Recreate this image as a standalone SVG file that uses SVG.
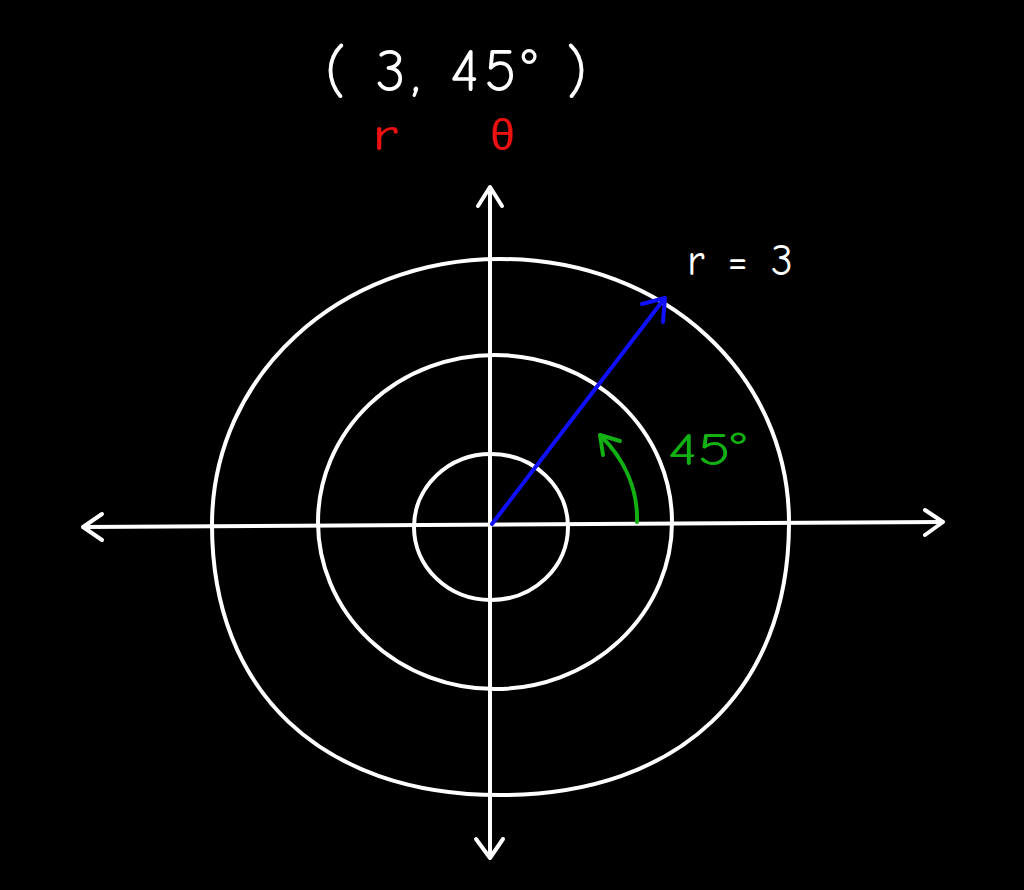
<svg xmlns="http://www.w3.org/2000/svg" width="1024" height="890" viewBox="0 0 1024 890">
<style>
.ax{stroke:#fff;stroke-width:4;fill:none;stroke-linecap:round;stroke-linejoin:round}
.ring{stroke:#fff;stroke-width:4;fill:none}
.t{font-family:"Comic Neue","Liberation Sans",sans-serif}
</style>
<rect width="1024" height="890" fill="#000"/>
<g id="rings">
<ellipse id="ring1" class="ring" cx="491" cy="527" rx="77" ry="73"/>
<ellipse id="ring2" class="ring" cx="495" cy="522" rx="177" ry="167"/>
<path id="ring3" class="ring" d="M212,525 C212,375 340,259 500,259 C665,259 790,375 789,525 C788,690 680,795 500,795 C320,795 212,690 212,525 Z"/>
</g>
<g id="connectors">
<path class="ax" d="M84,527 L942,522"/>
<path class="ax" d="M102,514 L83,527 L102,540"/>
<path class="ax" d="M925,510 L943,522 L925,535"/>
<path class="ax" d="M490,188 L490,857"/>
<path class="ax" d="M478,206 L490,187 L502,206"/>
<path class="ax" d="M476,839 L490,858 L503,839"/>
<path d="M492,524 L664,299" stroke="#1010ff" stroke-width="4" fill="none" stroke-linecap="round"/>
<path d="M642,304 L665,298 L663,322" stroke="#1010ff" stroke-width="4" fill="none" stroke-linecap="round" stroke-linejoin="round"/>
<path d="M637,522 C638,490 625,460 601,436" stroke="#12b012" stroke-width="4" fill="none" stroke-linecap="round"/>
<path d="M620,441 L600,435 L603,455" stroke="#12b012" stroke-width="4" fill="none" stroke-linecap="round" stroke-linejoin="round"/>
</g>
<g id="labels">
<text class="t" x="325" y="91" font-size="60" fill="#fff" textLength="262" lengthAdjust="spacing">( 3, 45° )</text>
<text class="t" x="372" y="150" font-size="46" fill="#ee1111" textLength="26" lengthAdjust="spacingAndGlyphs">r</text>
<text class="t" x="490" y="150" font-size="44" fill="#ee1111">θ</text>
<text class="t" x="687" y="275" font-size="44" fill="#fff" textLength="106" lengthAdjust="spacing">r = 3</text>
<text class="t" x="668" y="465" font-size="46" fill="#12b012" textLength="78" lengthAdjust="spacingAndGlyphs">45°</text>
</g>
</svg>
